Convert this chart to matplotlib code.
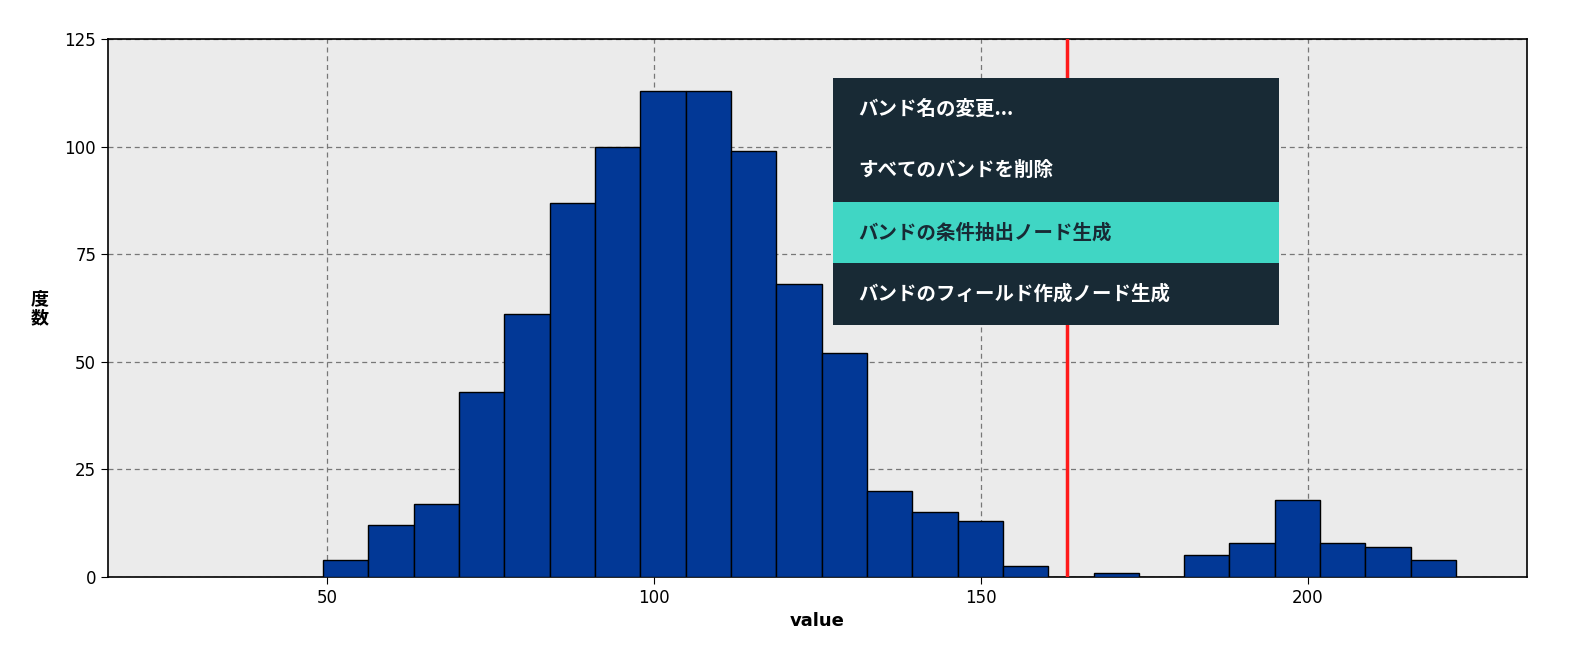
import numpy as np
import matplotlib.pyplot as plt
from matplotlib.patches import Rectangle

plt.rcParams['font.family'] = ['DejaVu Sans', 'Noto Sans CJK JP']

bin_start = 49.4
bin_width = 6.93
counts = [4, 12, 17, 43, 61, 87, 100, 113, 113, 99, 68, 52, 20, 15, 13, 2.5,
          0, 1, 0, 5, 8, 18, 8, 7, 4]
band_value = 163.1
menu_items = ["バンド名の変更...", "すべてのバンドを削除", "バンドの条件抽出ノード生成",
              "バンドのフィールド作成ノード生成"]
highlighted = 2
jp = ['Noto Sans CJK JP', 'DejaVu Sans']

fig = plt.figure(figsize=(15.96, 6.64), dpi=100)
ax = fig.add_axes([108/1596, 1 - 577/664, (1527-108)/1596, (577-39)/664])
ax.set_facecolor('#ebebeb')

edges = bin_start + bin_width * np.arange(len(counts))
ax.bar(edges, counts, width=bin_width, align='edge', color='#023896',
       edgecolor='black', linewidth=1, zorder=3)
ax.axvline(band_value, color='#ff1a1a', linewidth=2.5, zorder=4)

ax.set_xlim(16.5, 233.5)
ax.set_ylim(0, 125)
ax.set_xticks([50, 100, 150, 200])
ax.set_yticks([0, 25, 50, 75, 100, 125])
ax.grid(True, linestyle=(0, (4, 3)), color='#777777', linewidth=0.9, zorder=0)
ax.tick_params(labelsize=12, length=5)
for s in ax.spines.values():
    s.set_linewidth(1.2)
ax.set_xlabel("value", fontsize=13, fontweight='bold')
ax.set_ylabel("度\n数", fontsize=13, fontweight='bold', rotation=0, family=jp,
              va='center', labelpad=18, linespacing=1.0)

# context menu in pixel coordinates
mx0, mx1, my0, my1 = 833, 1279, 78, 325
row_h = (my1 - my0) / len(menu_items)
for i, label in enumerate(menu_items):
    top = my0 + i * row_h
    face = '#40d6c4' if i == highlighted else '#182a35'
    fig.add_artist(Rectangle((mx0/1596, 1 - (top + row_h)/664),
                             (mx1 - mx0)/1596, row_h/664,
                             transform=fig.transFigure, facecolor=face,
                             edgecolor='none', zorder=10))
    fig.text(858/1596, 1 - (top + row_h/2)/664, label, fontsize=14, family=jp,
             fontweight='bold', va='center', zorder=11,
             color='#182a35' if i == highlighted else 'white')

fig.savefig('out.png', dpi=100)
